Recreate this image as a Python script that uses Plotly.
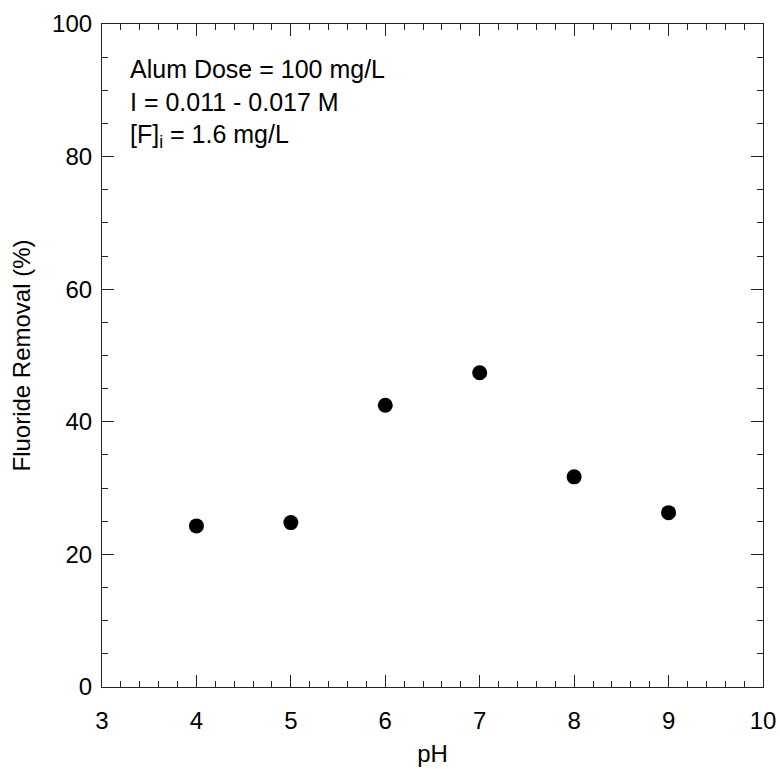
import plotly.graph_objects as go

ph = [4, 5, 6, 7, 8, 9]
removal = [24.3, 24.8, 42.5, 47.4, 31.7, 26.3]
x_ticks = [3, 4, 5, 6, 7, 8, 9, 10]
y_ticks = [0, 20, 40, 60, 80, 100]

FONT = "Liberation Sans, Arial, sans-serif"

fig = go.Figure()
fig.add_trace(go.Scatter(
    x=ph, y=removal, mode="markers",
    marker=dict(size=15, color="black", line=dict(width=0)),
    showlegend=False,
))

axis_common = dict(
    showgrid=False, zeroline=False, showline=True, linecolor="#222",
    linewidth=1.2, mirror="allticks", ticks="inside", ticklen=12,
    tickwidth=1.2, tickcolor="#222", automargin=False,
    tickfont=dict(family=FONT, size=24, color="black"),
)

fig.update_xaxes(
    range=[3, 10], tickvals=x_ticks, ticktext=[str(v) for v in x_ticks],
    minor=dict(ticks="inside", ticklen=6, dtick=0.2, tickcolor="#222", tickwidth=1.2),
    ticklabelstandoff=12,
    title=dict(text="pH", font=dict(family=FONT, size=24, color="black"), standoff=12),
    **axis_common,
)
fig.update_yaxes(
    range=[0, 100], tickvals=y_ticks, ticktext=[str(v) for v in y_ticks],
    minor=dict(ticks="inside", ticklen=6, dtick=5, tickcolor="#222", tickwidth=1.2),
    ticklabelstandoff=4,
    title=dict(text="Fluoride Removal (%)", font=dict(family=FONT, size=24, color="black"), standoff=14),
    **axis_common,
)

fig.add_annotation(
    xref="paper", yref="paper", x=0.040, y=0.956, xanchor="left", yanchor="top",
    align="left", showarrow=False,
    text="Alum Dose = 100 mg/L<br>I = 0.011 - 0.017 M<br>[F]<sub>i</sub> = 1.6 mg/L",
    font=dict(family=FONT, size=25, color="black"),
)

fig.update_layout(
    width=780, height=769,
    margin=dict(l=102, r=17, t=24, b=82),
    paper_bgcolor="white", plot_bgcolor="white",
    font=dict(family=FONT, size=24, color="black"),
)

fig.write_html("out.html")
